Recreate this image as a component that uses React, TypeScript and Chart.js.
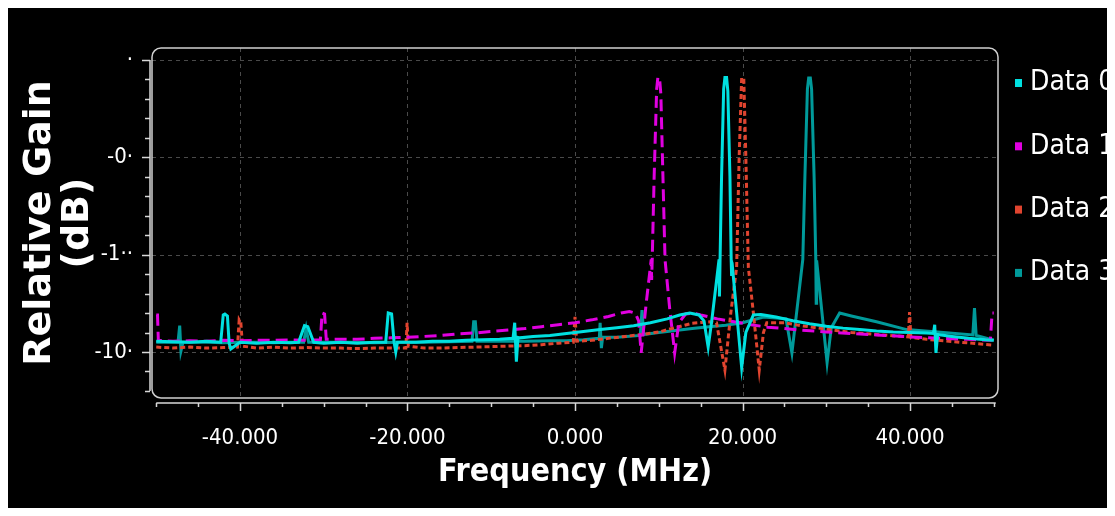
import React, { useEffect, useRef } from 'react';
import { Chart, registerables } from 'chart.js';

Chart.register(...registerables);

// ---------- data (MHz, dB-scale units) ----------
const seriesNames = ['Data 0', 'Data 1', 'Data 2', 'Data 3'];
const seriesColors = ['#00e0e0', '#e000e0', '#e0442f', '#009a9a'];
const seriesDashes: number[][] = [[], [12, 6], [5, 3], []];

const freq0 = [-50, -48, -46, -44, -42.3, -42.0, -41.8, -41.5, -41.3, -41.1, -40, -38, -36, -34, -33.0, -32.3, -31.9, -31.2, -30, -28, -26, -24, -22.6, -22.3, -21.9, -21.6, -21.4, -21.2, -19, -17, -15, -13, -11, -9, -7.4, -7.2, -7.0, -6.8, -6.6, -5, -3, -1, 1, 3, 5, 7, 9, 11, 12.5, 13.7, 14.8, 15.4, 15.9, 16.3, 17.2, 17.25, 17.32, 17.5, 17.75, 17.9, 18.1, 18.25, 18.5, 18.65, 18.7, 18.75, 19.9, 20.4, 21.3, 22.2, 24, 26, 28, 30, 32, 34, 36, 38, 40, 42, 42.8, 42.95, 43.1, 43.3, 45, 47, 49, 50];
const gain0 = [-28.9, -28.95, -29.0, -28.9, -29.0, -26.2, -26.1, -26.3, -29.1, -29.7, -29.0, -29.1, -29.0, -29.05, -29.0, -27.3, -27.4, -29.0, -29.1, -29.0, -29.1, -29.0, -29.0, -26.0, -26.1, -29.0, -30.0, -29.0, -29.0, -28.9, -28.9, -28.8, -28.75, -28.7, -28.6, -27.0, -31.0, -28.5, -28.55, -28.4, -28.3, -28.1, -27.9, -27.7, -27.5, -27.3, -27.0, -26.6, -26.2, -26.0, -26.2, -26.8, -29.5, -27.0, -20.5, -24.3, -20.6, -12.0, -3.0, -1.8, -1.8, -3.2, -12.0, -20.6, -22.2, -20.8, -31.6, -28.0, -26.2, -26.15, -26.4, -26.8, -27.1, -27.35, -27.55, -27.7, -27.85, -27.95, -28.0, -28.05, -28.1, -27.2, -30.1, -28.2, -28.4, -28.6, -28.75, -28.8];

const freq1 = [-50, -49.85, -49.75, -48, -46, -44, -42, -40, -38, -36, -34, -32, -30.4, -30.2, -29.9, -29.7, -28, -26, -24, -22, -20, -18, -16, -14, -12, -10, -8, -6, -4, -2, 0, 2, 4, 5.5, 6.5, 7.2, 7.6, 7.9, 8.5, 9.1, 9.15, 9.22, 9.45, 9.75, 9.9, 10.1, 10.25, 10.5, 10.75, 11.3, 11.9, 12.4, 13.2, 14.1, 15, 17, 19, 21, 23, 25, 27, 30, 33, 36, 40, 44, 47, 49.6, 49.8, 50];
const gain1 = [-26.2, -26.2, -28.8, -28.9, -28.85, -28.9, -28.8, -28.85, -28.8, -28.8, -28.75, -28.8, -28.75, -26.0, -26.1, -28.7, -28.7, -28.7, -28.6, -28.55, -28.5, -28.4, -28.3, -28.15, -28.05, -27.9, -27.75, -27.6, -27.4, -27.2, -27.0, -26.7, -26.35, -26.0, -25.85, -26.0, -26.8, -30.1, -25.0, -20.5, -22.6, -20.5, -12.0, -3.0, -1.75, -1.9, -3.5, -12.0, -20.5, -25.5, -30.1, -27.0, -26.1, -26.0, -26.2, -26.6, -26.9, -27.2, -27.45, -27.6, -27.75, -27.95, -28.1, -28.25, -28.45, -28.6, -28.7, -28.8, -26.0, -26.0];

const freq2 = [-50, -48, -46, -44, -42, -40.3, -40.1, -39.9, -39.7, -38, -36, -34, -32, -30, -28, -26, -24, -22, -20.2, -20.05, -19.9, -18, -16, -14, -12, -10, -8, -6, -4, -2, -0.2, 0, 0.2, 2, 4, 6, 8, 10, 12, 14, 16.1, 16.9, 17.9, 18.6, 19.3, 19.6, 19.9, 20.15, 20.4, 20.7, 21.3, 22.0, 22.5, 22.9, 25, 27, 30, 33, 36, 39.8, 39.95, 40.1, 42, 44, 46, 48, 50];
const gain2 = [-29.5, -29.6, -29.5, -29.6, -29.55, -29.5, -26.7, -27.0, -29.4, -29.6, -29.5, -29.6, -29.55, -29.6, -29.6, -29.65, -29.6, -29.6, -29.6, -27.0, -29.4, -29.6, -29.6, -29.55, -29.5, -29.45, -29.4, -29.35, -29.25, -29.1, -29.0, -26.4, -28.9, -28.8, -28.6, -28.4, -28.2, -27.95, -27.5, -27.05, -26.9, -27.0, -31.85, -26.0, -21.3, -10.0, -1.85, -1.85, -10.0, -21.3, -26.0, -31.85, -28.0, -27.0, -27.0, -27.3, -27.65, -28.0, -28.2, -28.45, -25.9, -28.5, -28.7, -28.85, -29.0, -29.15, -29.3];

const freq3 = [-50, -48, -47.4, -47.2, -47.05, -46.8, -44, -42, -40, -38, -36, -34, -32.4, -32.1, -31.8, -30, -27, -24, -21, -18, -15, -12.3, -12.1, -11.9, -11.7, -9, -6, -3, -1, 1, 2.9, 3.0, 3.15, 3.3, 5, 7.8, 8.0, 8.2, 10, 12, 14, 16, 18, 20, 22.5, 25.2, 25.9, 27.2, 27.45, 27.75, 27.9, 28.1, 28.25, 28.55, 28.75, 28.8, 28.85, 30.1, 30.6, 31.6, 33, 36, 39.6, 44, 47.5, 47.7, 47.9, 50];
const gain3 = [-29.0, -29.0, -29.0, -27.3, -29.9, -29.0, -29.0, -29.05, -29.0, -29.0, -29.05, -29.0, -29.0, -27.6, -29.0, -29.0, -29.0, -29.05, -29.0, -29.0, -28.95, -28.9, -26.9, -26.9, -28.9, -28.9, -28.9, -28.85, -28.85, -28.75, -28.6, -27.0, -29.6, -28.5, -28.5, -28.3, -25.7, -28.2, -28.0, -27.8, -27.6, -27.4, -27.25, -27.0, -26.4, -26.6, -30.1, -20.5, -12.0, -3.0, -1.85, -1.85, -3.0, -12.0, -20.5, -25.0, -20.6, -31.1, -27.5, -26.0, -26.3, -26.9, -27.7, -28.0, -28.25, -25.5, -28.3, -28.8];

const freqs = [freq0, freq1, freq2, freq3];
const gains = [gain0, gain1, gain2, gain3];

// ---------- ticks ----------
const xTickValues = [-40, -20, 0, 20, 40];
const xTickLabels = ['-40.000', '-20.000', '0.000', '20.000', '40.000'];
const yTickValues = [0, -10, -20, -30];
const yTickLabels = ['·', '-0·', '-1··', '-10·'];
const xMinorTicks = [-50, -45, -40, -35, -30, -25, -20, -15, -10, -5, 0, 5, 10, 15, 20, 25, 30, 35, 40, 45, 50];
const yMinorTicks = [0, -2, -4, -6, -8, -10, -12, -14, -16, -18, -20, -22, -24, -26, -28, -30, -32, -34];

const xTitle = 'Frequency (MHz)';
const yTitle = ['Relative Gain', '(dB)'];

const condensed = '"DejaVu Sans Condensed", "DejaVu Sans", sans-serif';

const framePlugin = {
  id: 'frame',
  beforeDatasetsDraw(chart: any) {
    const { ctx, chartArea: a, scales } = chart;
    const x = scales.x, y = scales.y;
    ctx.save();
    ctx.strokeStyle = '#4a4a4a';
    ctx.lineWidth = 1;
    ctx.setLineDash([4, 4]);
    for (const v of xTickValues) {
      const px = Math.round(x.getPixelForValue(v)) + 0.5;
      ctx.beginPath(); ctx.moveTo(px, a.top); ctx.lineTo(px, a.bottom); ctx.stroke();
    }
    for (const v of yTickValues) {
      const py = Math.round(y.getPixelForValue(v)) + 0.5;
      ctx.beginPath(); ctx.moveTo(a.left, py); ctx.lineTo(a.right, py); ctx.stroke();
    }
    ctx.restore();
  },
  afterDraw(chart: any) {
    const { ctx, chartArea: a, scales } = chart;
    const x = scales.x, y = scales.y;
    ctx.save();
    // rounded plot frame
    ctx.strokeStyle = '#cfcfcf';
    ctx.lineWidth = 1.5;
    ctx.beginPath();
    (ctx as any).roundRect(a.left, a.top, a.right - a.left, a.bottom - a.top, 9);
    ctx.stroke();

    // y axis line and ticks
    const ax = a.left - 2;
    ctx.strokeStyle = '#d8d8d8';
    ctx.lineWidth = 1.5;
    ctx.beginPath();
    ctx.moveTo(ax, y.getPixelForValue(yMinorTicks[0]));
    ctx.lineTo(ax, y.getPixelForValue(yMinorTicks[yMinorTicks.length - 1]));
    ctx.stroke();
    for (const v of yMinorTicks) {
      const py = Math.round(y.getPixelForValue(v)) + 0.5;
      const len = v % 10 === 0 ? 8 : 5;
      ctx.beginPath(); ctx.moveTo(ax, py); ctx.lineTo(ax - len, py); ctx.stroke();
    }

    // x axis line and ticks
    const ay = a.bottom + 5;
    ctx.beginPath();
    ctx.moveTo(x.getPixelForValue(xMinorTicks[0]), ay);
    ctx.lineTo(x.getPixelForValue(xMinorTicks[xMinorTicks.length - 1]) + 2, ay);
    ctx.stroke();
    for (const v of xMinorTicks) {
      const px = Math.round(x.getPixelForValue(v)) + 0.5;
      const len = v % 20 === 0 ? 8 : 4;
      ctx.beginPath(); ctx.moveTo(px, ay); ctx.lineTo(px, ay + len); ctx.stroke();
    }

    // legend
    ctx.font = `28px ${condensed}`;
    ctx.textBaseline = 'middle';
    ctx.textAlign = 'left';
    chart.data.datasets.forEach((ds: any, i: number) => {
      const cy = a.top + 35 + i * 63.3;
      ctx.fillStyle = ds.borderColor;
      ctx.fillRect(a.right + 17, cy - 4, 7, 8);
      ctx.fillStyle = '#ffffff';
      ctx.fillText(ds.label, a.right + 32, cy);
    });
    ctx.restore();
  },
};

export default function App() {
  const canvasRef = useRef<HTMLCanvasElement | null>(null);

  useEffect(() => {
    if (!canvasRef.current) return;
    const datasets = seriesNames.map((name, i) => ({
      label: name,
      data: freqs[i].map((f, k) => ({ x: f, y: gains[i][k] })),
      borderColor: seriesColors[i],
      backgroundColor: seriesColors[i],
      borderWidth: 3,
      borderDash: seriesDashes[i],
      pointRadius: 0,
      fill: false,
      tension: 0,
    }));

    const chart = new Chart(canvasRef.current, {
      type: 'line',
      data: { datasets },
      options: {
        animation: false,
        responsive: true,
        maintainAspectRatio: false,
        layout: { padding: { top: 40, right: 117, left: 0, bottom: 0 } },
        plugins: { legend: { display: false }, tooltip: { enabled: false } },
        scales: {
          x: {
            type: 'linear',
            min: -50.507,
            max: 50.507,
            afterBuildTicks: (s: any) => { s.ticks = xTickValues.map((v) => ({ value: v })); },
            afterFit: (s: any) => { s.height = 110; },
            grid: { display: false, drawTicks: false },
            border: { display: false },
            ticks: {
              autoSkip: false,
              maxRotation: 0,
              padding: 27,
              color: '#ffffff',
              font: { family: condensed, size: 22 },
              callback: (_v: any, i: number) => xTickLabels[i],
            },
            title: {
              display: true,
              text: xTitle,
              color: '#ffffff',
              font: { family: condensed, size: 32, weight: 'bold', lineHeight: 1.2 },
              padding: { top: 0, bottom: 16 },
            },
          },
          y: {
            type: 'linear',
            min: -34.73,
            max: 1.233,
            afterBuildTicks: (s: any) => { s.ticks = yTickValues.map((v) => ({ value: v })); },
            afterFit: (s: any) => { s.width = 144; },
            grid: { display: false, drawTicks: false },
            border: { display: false },
            ticks: {
              autoSkip: false,
              padding: 19,
              color: '#ffffff',
              font: { family: condensed, size: 22 },
              callback: (_v: any, i: number) => yTickLabels[i],
            },
            title: {
              display: true,
              text: yTitle,
              color: '#ffffff',
              font: { family: '"DejaVu Sans", sans-serif', size: 38, weight: 'bold', lineHeight: 1.0 },
              padding: { top: 13, bottom: 0 },
            },
          },
        },
      },
      plugins: [framePlugin],
    });
    return () => chart.destroy();
  }, []);

  return (
    <div style={{ width: 1107, height: 500, background: '#000', position: 'relative' }}>
      <canvas ref={canvasRef} />
    </div>
  );
}
